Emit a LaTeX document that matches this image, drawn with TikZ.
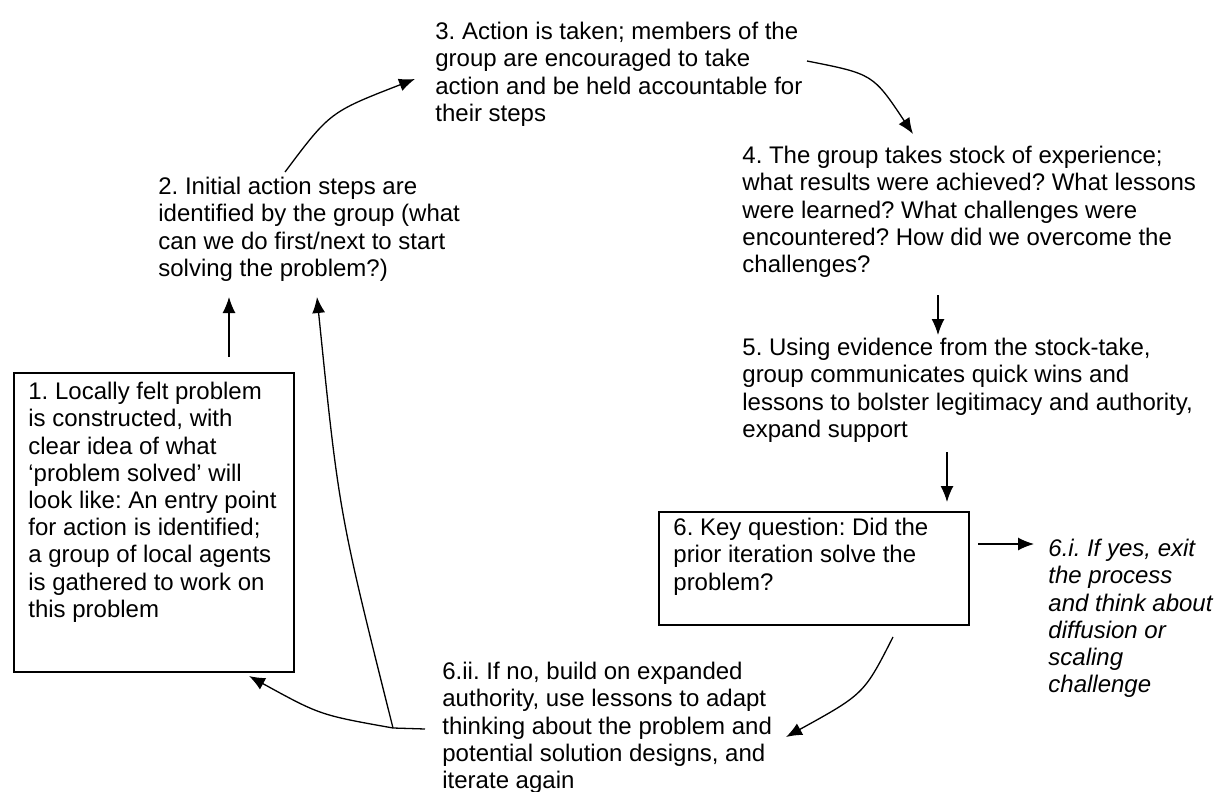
\documentclass[tikz,border=0pt]{standalone}
\usepackage{fontspec}
\setmainfont{Liberation Sans}
\usepackage{tikz}
\usetikzlibrary{arrows.meta}
\frenchspacing

\begin{document}
\begin{tikzpicture}[x=0.5pt, y=-0.5pt, >={Latex[length=8pt,width=6.5pt]},
        txt/.style={anchor=north west, inner sep=0pt, align=left, font=\fontsize{12}{13.6}\selectfont},
        arr/.style={->, line width=0.65pt}]
    \useasboundingbox (0,0) rectangle (1216,792);
    % boxes
    \node[draw, line width=1pt, anchor=north west, inner sep=0pt, minimum width=140pt, minimum height=149.5pt] (box1) at (13,372) {};
    \node[draw, line width=1pt, anchor=north west, inner sep=0pt, minimum width=155pt, minimum height=56.5pt] (box6) at (658,511) {};
    % texts
    \node[txt] (t1) at (28,382) {1. Locally felt problem\\is constructed, with\\clear idea of what\\‘problem solved’ will\\look like: An entry point\\for action is identified;\\a group of local agents\\is gathered to work on\\this problem};
    \node[txt] (t2) at (158,177) {2. Initial action steps are\\identified by the group (what\\can we do first/next to start\\solving the problem?)};
    \node[txt] (t3) at (435,22) {3. Action is taken; members of the\\group are encouraged to take\\action and be held accountable for\\their steps};
    \node[txt] (t4) at (742,146) {4. The group takes stock of experience;\\what results were achieved? What lessons\\were learned? What challenges were\\encountered? How did we overcome the\\challenges?};
    \node[txt] (t5) at (742,338) {5. Using evidence from the stock-take,\\group communicates quick wins and\\lessons to bolster legitimacy and authority,\\expand support};
    \node[txt] (t6) at (673,518) {6. Key question: Did the\\prior iteration solve the\\problem?};
    \node[txt, font=\fontsize{12}{13.6}\selectfont\itshape] (t6i) at (1048,539) {6.i. If yes, exit\\the process\\and think about\\diffusion or\\scaling\\challenge};
    \node[txt] (t6ii) at (442,662) {6.ii. If no, build on expanded\\authority, use lessons to adapt\\thinking about the problem and\\potential solution designs, and\\iterate again};
    % arrow ends
    \coordinate (a1) at (229,357);
    \coordinate (a2) at (229,297);
    \coordinate (b1) at (285,172);
    \coordinate (b2) at (415,79);
    \coordinate (c1) at (807,61);
    \coordinate (c2) at (913,134);
    \coordinate (d1) at (938,295);
    \coordinate (d2) at (938,335);
    \coordinate (e1) at (947,452);
    \coordinate (e2) at (947,502);
    \coordinate (f1) at (978,544);
    \coordinate (f2) at (1034,544);
    \coordinate (g1) at (893,637);
    \coordinate (g2) at (786,737);
    \coordinate (h1) at (425,729);
    \coordinate (hj) at (393,728);
    \coordinate (h2) at (249,676);
    \coordinate (k2) at (317,297);
    % connectors
    \draw[arr] (a1) -- (a2);
    \draw[arr] (b1) .. controls (330,112) .. (b2);
    \draw[arr] (c1) .. controls (873,74) .. (c2);
    \draw[arr] (d1) -- (d2);
    \draw[arr] (e1) -- (e2);
    \draw[arr] (f1) -- (f2);
    \draw[arr] (g1) .. controls (864,694) .. (g2);
    \draw[arr] (h1) -- (hj) .. controls (320,715) .. (h2);
    \draw[arr] (hj) .. controls (339,513) .. (k2);
\end{tikzpicture}
\end{document}
